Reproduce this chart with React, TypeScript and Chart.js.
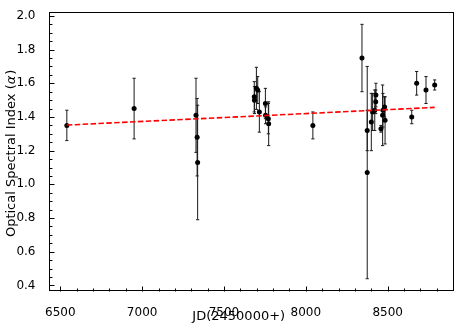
import React, { useEffect, useRef } from "react";
import { Chart, registerables } from "chart.js";

Chart.register(...registerables);

// Julian date (JD - 2450000)
const jd = [
  6540, 6951, 7329, 7336, 7339, 7685, 7686, 7698, 7706, 7716, 7753, 7754, 7771, 7773,
  8043, 8343, 8375, 8375, 8400, 8408, 8421, 8427, 8428, 8459, 8469, 8471, 8481, 8484,
  8647, 8677, 8734, 8787,
];
// Optical spectral index
const alpha = [
  1.35, 1.45, 1.41, 1.28, 1.13, 1.52, 1.5, 1.57, 1.56, 1.43, 1.48, 1.41, 1.39, 1.36,
  1.35, 1.75, 1.32, 1.07, 1.37, 1.43, 1.44, 1.49, 1.53, 1.33, 1.41, 1.44, 1.46, 1.38,
  1.4, 1.6, 1.56, 1.59,
];
// 1-sigma errors
const alphaErr = [
  0.09, 0.18, 0.22, 0.23, 0.34, 0.09, 0.08, 0.125, 0.08, 0.12, 0.09, 0.05, 0.09, 0.13,
  0.08, 0.2, 0.12, 0.63, 0.17, 0.11, 0.12, 0.07, 0.07, 0.02, 0.18, 0.1, 0.06, 0.14,
  0.04, 0.07, 0.08, 0.03,
];
// Linear fit endpoints
const fitJd = [6540, 8787];
const fitAlpha = [1.352, 1.457];

// Tick labels
const xTickValues = [6500, 7000, 7500, 8000, 8500];
const yTickValues = [0.4, 0.6, 0.8, 1.0, 1.2, 1.4, 1.6, 1.8, 2.0];

const X_MIN = 6428;
const X_MAX = 8899;
const Y_MIN = 0.37;
const Y_MAX = 2.022;
const X_MAJOR = 500;
const X_MINOR = 100;
const Y_MAJOR = 0.2;
const Y_MINOR = 0.05;

const FONT = "'DejaVu Sans', 'Liberation Sans', sans-serif";

const decorations = {
  id: "decorations",
  beforeDatasetsDraw(chart: any) {
    const ctx = chart.ctx;
    const xs = chart.scales.x;
    const ys = chart.scales.y;
    const cap = 1.6;
    ctx.save();
    ctx.strokeStyle = "#1a1a1a";
    ctx.lineWidth = 1;
    for (let i = 0; i < jd.length; i++) {
      const px = xs.getPixelForValue(jd[i]);
      const top = ys.getPixelForValue(alpha[i] + alphaErr[i]);
      const bot = ys.getPixelForValue(alpha[i] - alphaErr[i]);
      ctx.beginPath();
      ctx.moveTo(px, top);
      ctx.lineTo(px, bot);
      ctx.moveTo(px - cap, top);
      ctx.lineTo(px + cap, top);
      ctx.moveTo(px - cap, bot);
      ctx.lineTo(px + cap, bot);
      ctx.stroke();
    }
    ctx.restore();
  },
  afterDraw(chart: any) {
    const ctx = chart.ctx;
    const { left, right, top, bottom } = chart.chartArea;
    const xs = chart.scales.x;
    const ys = chart.scales.y;
    ctx.save();
    // frame
    ctx.strokeStyle = "#000";
    ctx.lineWidth = 1;
    ctx.strokeRect(Math.round(left) + 0.5, Math.round(top) + 0.5, Math.round(right - left) - 1, Math.round(bottom - top));
    // inward ticks
    ctx.beginPath();
    const b = Math.round(bottom) + 0.5;
    for (let v = Math.ceil(X_MIN / X_MINOR) * X_MINOR; v <= X_MAX; v += X_MINOR) {
      const major = Math.abs(v / X_MAJOR - Math.round(v / X_MAJOR)) < 1e-6;
      const px = Math.round(xs.getPixelForValue(v)) + 0.5;
      ctx.moveTo(px, b);
      ctx.lineTo(px, b - (major ? 5 : 3));
    }
    const l = Math.round(left) + 0.5;
    for (let k = Math.ceil(Y_MIN / Y_MINOR - 1e-6); k * Y_MINOR <= Y_MAX + 1e-9; k++) {
      const v = k * Y_MINOR;
      const major = Math.abs(v / Y_MAJOR - Math.round(v / Y_MAJOR)) < 1e-6;
      const py = Math.round(ys.getPixelForValue(v)) + 0.5;
      ctx.moveTo(l, py);
      ctx.lineTo(l + (major ? 5 : 3), py);
    }
    ctx.stroke();

    // axis titles
    ctx.fillStyle = "#000";
    ctx.textBaseline = "middle";
    ctx.textAlign = "center";
    ctx.font = `13px ${FONT}`;
    ctx.fillText("JD(2450000+)", (left + right) / 2 - 12, bottom + 26);

    const parts: [string, string][] = [
      ["Optical Spectral Index (", `13px ${FONT}`],
      ["\u03b1", `italic 13px ${FONT}`],
      [")", `13px ${FONT}`],
    ];
    let total = 0;
    const widths = parts.map(([t, f]) => {
      ctx.font = f;
      const w = ctx.measureText(t).width + (t === "\u03b1" ? 1 : 0);
      total += w;
      return w;
    });
    ctx.translate(left - 37, (top + bottom) / 2 + 2);
    ctx.rotate(-Math.PI / 2);
    ctx.textAlign = "left";
    let x = -total / 2;
    parts.forEach(([t, f], i) => {
      ctx.font = f;
      ctx.fillText(t, x, 0);
      x += widths[i];
    });
    ctx.restore();
  },
};

export default function App() {
  const ref = useRef<HTMLCanvasElement | null>(null);
  useEffect(() => {
    document.body.style.margin = "0";
    const canvas = ref.current;
    if (!canvas) return;
    const chart = new Chart(canvas, {
      type: "scatter",
      data: {
        datasets: [
          {
            type: "line",
            data: fitJd.map((x, i) => ({ x, y: fitAlpha[i] })),
            borderColor: "#ff0000",
            borderWidth: 1.6,
            borderDash: [5.5, 2.4],
            pointRadius: 0,
            fill: false,
            showLine: true,
            tension: 0,
            order: 0,
          } as any,
          {
            data: jd.map((x, i) => ({ x, y: alpha[i] })),
            backgroundColor: "#000",
            borderColor: "#000",
            borderWidth: 0,
            pointRadius: 2.5,
            order: 1,
          },
        ],
      },
      options: {
        responsive: false,
        animation: false,
        devicePixelRatio: 1,
        layout: { padding: { top: 8, right: 10, left: 0, bottom: 0 } },
        plugins: { legend: { display: false }, tooltip: { enabled: false } },
        scales: {
          x: {
            type: "linear",
            min: X_MIN,
            max: X_MAX,
            afterBuildTicks: (s: any) => {
              s.ticks = xTickValues.map((value) => ({ value }));
            },
            afterFit: (s: any) => {
              s.height = 36.5;
            },
            grid: { display: false },
            border: { display: false },
            ticks: {
              padding: 7,
              color: "#000",
              maxRotation: 0,
              autoSkip: false,
              font: { family: FONT, size: 12 },
              callback: (v: any) => String(v),
            },
          },
          y: {
            type: "linear",
            min: Y_MIN,
            max: Y_MAX,
            afterBuildTicks: (s: any) => {
              s.ticks = yTickValues.map((value) => ({ value }));
            },
            afterFit: (s: any) => {
              s.width = 48.5;
            },
            grid: { display: false },
            border: { display: false },
            ticks: {
              padding: 5,
              color: "#000",
              autoSkip: false,
              font: { family: FONT, size: 12 },
              callback: (v: any) => Number(v).toFixed(1),
            },
          },
        },
      } as any,
      plugins: [decorations],
    });
    return () => chart.destroy();
  }, []);
  return <canvas ref={ref} width={463} height={327} style={{ display: "block" }} />;
}
